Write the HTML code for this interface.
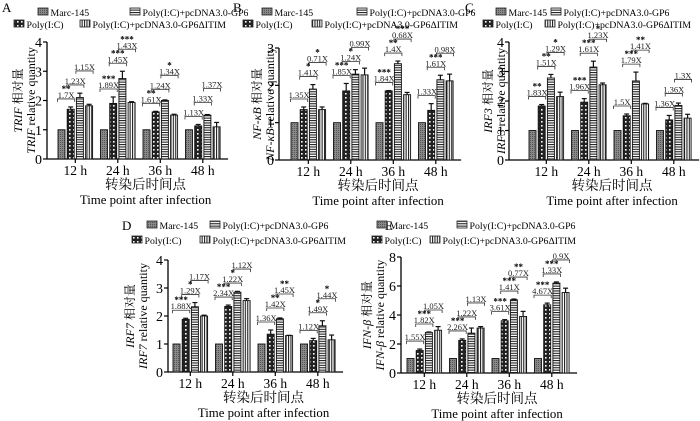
<!DOCTYPE html>
<html><head><meta charset="utf-8">
<style>
body{margin:0;background:#fff;}
svg{display:block;font-family:"Liberation Serif","Noto Serif CJK SC",serif;}
</style></head>
<body>
<svg id="fig" width="700" height="421" viewBox="0 0 700 421">
<defs>
<pattern id="pMarc" width="2" height="2" patternUnits="userSpaceOnUse"><rect width="2" height="2" fill="#888"/><rect width="1" height="1" fill="#555"/></pattern>
<pattern id="pPoly" width="4" height="4" patternUnits="userSpaceOnUse"><rect width="4" height="4" fill="#222"/><rect x="1" y="1" width="1.6" height="1.6" fill="#fff"/></pattern>
<pattern id="pGP6" width="4" height="2.4" patternUnits="userSpaceOnUse"><rect width="4" height="2.4" fill="#fff"/><rect width="4" height="1.1" fill="#222"/></pattern>
<pattern id="pITIM" width="2.4" height="4" patternUnits="userSpaceOnUse"><rect width="2.4" height="4" fill="#fff"/><rect width="1.1" height="4" fill="#222"/></pattern>
</defs>
</svg>
<script>
const groups = ["12 h","24 h","36 h","48 h"];
const seriesNames = ["Marc-145","Poly(I:C)","Poly(I:C)+pcDNA3.0-GP6","Poly(I:C)+pcDNA3.0-GP6ΔITIM"];
// values per panel: [group][series]
const valsA = [[1,1.7,2.1,1.82],[1,1.9,2.75,1.93],[1,1.61,2.0,1.5],[1,1.13,1.5,1.1]];
const errA  = [[0,0.08,0.15,0.05],[0,0.22,0.25,0.03],[0,0.02,0.02,0.03],[0,0.05,0.02,0.15]];
const annA  = [["1.7X","1.23X","1.15X"],["1.89X","1.45X","1.43X"],["1.61X","1.24X","1.34X"],["1.13X","1.33X","1.37X"]];
const starA = [["**","",""],["***","***","***"],["**","","*"],["","",""]];
const valsB = [[1,1.35,1.9,1.35],[1,1.85,2.3,2.28],[1,1.85,2.58,1.75],[1,1.33,2.15,2.12]];
const errB  = [[0,0.07,0.12,0.07],[0,0.2,0.12,0.18],[0,0.01,0.07,0.06],[0,0.18,0.12,0.18]];
const annB  = [["1.35X","1.41X","0.71X"],["1.85X","1.24X","0.99X"],["1.84X","1.4X","0.68X"],["1.33X","1.61X","0.98X"]];
const starB = [["","*","*"],["***","*",""],["***","**","***"],["","***",""]];
const valsC = [[1,1.83,2.78,2.15],[1,1.96,3.15,2.55],[1,1.5,2.68,1.9],[1,1.36,1.85,1.42]];
const errC  = [[0,0.05,0.12,0.15],[0,0.12,0.2,0.06],[0,0.06,0.3,0.02],[0,0.15,0.08,0.13]];
const annC  = [["1.83X","1.51X","1.29X"],["1.96X","1.61X","1.23X"],["1.5X","1.79X","1.41X"],["1.36X","1.36X","1.3X"]];
const starC = [["**","**","*"],["***","***","*"],["","***","**"],["","",""]];
const valsD = [[1,1.88,2.33,2.0],[1,2.34,2.85,2.55],[1,1.35,1.9,1.3],[1,1.12,1.65,1.15]];
const errD  = [[0,0.04,0.15,0.03],[0,0.05,0.03,0.07],[0,0.15,0.03,0.01],[0,0.08,0.18,0.17]];
const annD  = [["1.88X","1.29X","1.17X"],["2.34X","1.22X","1.12X"],["1.36X","1.42X","1.45X"],["1.12X","1.49X","1.44X"]];
const starD = [["***","*",""],["***","*",""],["","**","**"],["","*","*"]];
const valsE = [[1,1.55,2.8,2.95],[1,2.25,2.75,3.1],[1,3.6,5.05,3.9],[1,4.7,6.2,5.55]];
const errE  = [[0,0.1,0.03,0.25],[0,0.1,0.35,0.1],[0,0.08,0.05,0.35],[0,0.12,0.08,0.3]];
const annE  = [["1.55X","1.82X","1.05X"],["2.26X","1.22X","1.13X"],["3.61X","1.41X","0.77X"],["4.67X","1.33X","0.9X"]];
const starE = [["","***",""],["***","",""],["***","***","**"],["***","***",""]];
const ticksA = [0,1,2,3,4], ticksB = [0,1,2,3], ticksC = [0,1,2,3,4], ticksD = [0,1,2,3,4], ticksE = [0,2,4,6,8];

const NS = "http://www.w3.org/2000/svg";
const svg = document.getElementById("fig");
const fills = ["url(#pMarc)","url(#pPoly)","url(#pGP6)","url(#pITIM)"];
function mk(tag, attrs, parent, text){
  const e = document.createElementNS(NS, tag);
  for (const k in attrs) e.setAttribute(k, attrs[k]);
  if (text !== undefined) e.textContent = text;
  (parent||svg).appendChild(e);
  return e;
}
function panel(p){
  const g = mk("g", {});
  
  
  const yS = v => p.y0 - (v / p.max) * (p.y0 - p.yt);
  const bw = 7, bs = 9.2, gs = 42.5;
  const xS = (gi, si) => p.fb + gi * gs + si * bs;
  let t = mk("text", {x:p.lx, y:p.ly, "font-size":13}, g, p.id);
  
  
  const L = p.leg;
  [[0,L[0],L[1]],[2,L[2],L[1]],[1,L[3],L[4]],[3,L[5],L[4]]].forEach(([si,x,y])=>{
    const lg = mk("g", {}, g);
    
    
    mk("rect", {x:x, y:y-8, width:10, height:7, fill:fills[si], stroke:"#222","stroke-width":0.8}, lg);
    mk("text", {x:x+12.5, y:y, "font-size":9.8}, lg, seriesNames[si]);
  });
  const xEnd = xS(3,3) + bw + 8;
  let ax = mk("line", {x1:p.ax, y1:p.y0, x2:p.ax, y2:p.yt, stroke:"#000","stroke-width":1.3}, g);
  
  
  ax = mk("line", {x1:p.ax, y1:p.y0, x2:xEnd, y2:p.y0, stroke:"#000","stroke-width":1.3}, g);
  
  
  p.ticks.forEach(v=>{
    mk("line", {x1:p.ax-4, y1:yS(v), x2:p.ax, y2:yS(v), stroke:"#000","stroke-width":1.2}, g);
    const tl = mk("text", {x:p.ax-5, y:yS(v)+5, "font-size":14, "text-anchor":"end"}, g, String(v));
    
    
  });
  groups.forEach((gn, gi)=>{
    const cx = xS(gi,0) + (3*bs+bw)/2;
    mk("line", {x1:cx, y1:p.y0, x2:cx, y2:p.y0+4, stroke:"#000","stroke-width":1.2}, g);
    const xl = mk("text", {x:cx, y:p.y0+16, "font-size":13.5, "text-anchor":"middle"}, g, gn);
    
    
    const tops = [];
    for (let si=0; si<4; si++){
      const v = p.vals[gi][si], e = p.err[gi][si];
      const x = xS(gi,si), y = yS(v);
      const b = mk("rect", {x:x, y:y, width:bw, height:p.y0-y, fill:fills[si], stroke:"#111","stroke-width":0.9}, g);
      
      
      if (e > 0){
        const ye = yS(v+e);
        mk("line", {x1:x+bw/2, y1:y, x2:x+bw/2, y2:ye, stroke:"#111","stroke-width":1.2}, g);
        mk("line", {x1:x+1, y1:ye, x2:x+bw-1, y2:ye, stroke:"#111","stroke-width":1.2}, g);
      }
      tops.push(yS(v+e));
    }
    let prev = 1e9;
    for (let k=0;k<3;k++){
      let lvl = Math.min(tops[k], tops[k+1]) - 8;
      if (prev - 14 < lvl) lvl = prev - 14;
      prev = lvl;
      const x1 = xS(gi,k)+bw/2 - 4, x2 = xS(gi,k+1)+bw/2 + 4;
      const br = mk("path", {d:`M${x1} ${lvl+3}V${lvl}H${x2}V${lvl+3}`, fill:"none", stroke:"#333","stroke-width":0.8}, g);
      
      
      const at = mk("text", {x:(x1+x2)/2, y:lvl-1, "font-size":8.5, "text-anchor":"middle", fill:"#222"}, g, p.ann[gi][k]);
      
      
      if (p.star[gi][k]){
        const st = mk("text", {x:(x1+x2)/2, y:lvl-7, "font-size":9, "text-anchor":"middle", "font-weight":"bold"}, g, p.star[gi][k]);
        
        
      }
    }
  });
  const mx = (p.ax + xEnd)/2;
  let xt = mk("text", {x:mx+8, y:p.y0+30, "font-size":13.5, "text-anchor":"middle"}, g, "转染后时间点");
  
  
  xt = mk("text", {x:mx+8, y:p.y0+45, "font-size":12.8, "text-anchor":"middle"}, g, "Time point after infection");
  
  
  const cy = (p.y0 + p.yt)/2;
  const yt1 = mk("text", {transform:`translate(${p.tx1},${cy}) rotate(-90)`, "font-size":12, "text-anchor":"middle"}, g);
  
  
  mk("tspan", {"font-style":"italic"}, yt1, p.gene);
  mk("tspan", {}, yt1, " 相对量");
  const yt2 = mk("text", {transform:`translate(${p.tx1+13},${cy}) rotate(-90)`, "font-size":12, "text-anchor":"middle"}, g);
  
  
  mk("tspan", {"font-style":"italic"}, yt2, p.gene);
  mk("tspan", {}, yt2, " relative quantity");
}
panel({id:"A", gene:"TRIF", vals:valsA, err:errA, ann:annA, star:starA, ticks:ticksA, max:4, ax:47, y0:159, yt:42, fb:58, lx:2, ly:12, tx1:22, leg:[38,16,130,14,28,80]});
panel({id:"B", gene:"NF-κB", vals:valsB, err:errB, ann:annB, star:starB, ticks:ticksB, max:3, ax:279, y0:160, yt:48, fb:291, lx:233, ly:12, tx1:261, leg:[262,16,357,243,28,312]});
panel({id:"C", gene:"IRF3", vals:valsC, err:errC, ann:annC, star:starC, ticks:ticksC, max:4, ax:509, y0:160, yt:42, fb:529, lx:465, ly:12, tx1:492, leg:[496,16,551,483,28,545]});
panel({id:"D", gene:"IRF7", vals:valsD, err:errD, ann:annD, star:starD, ticks:ticksD, max:4, ax:168, y0:372, yt:260, fb:173, lx:122, ly:230, tx1:134, leg:[147,229,210,132,244,200]});
panel({id:"E", gene:"IFN-β", vals:valsE, err:errE, ann:annE, star:starE, ticks:ticksE, max:8, ax:401, y0:373, yt:257, fb:407, lx:385, ly:230, tx1:371, leg:[377,229,457,372,244,430]});
</script>
</body></html>
